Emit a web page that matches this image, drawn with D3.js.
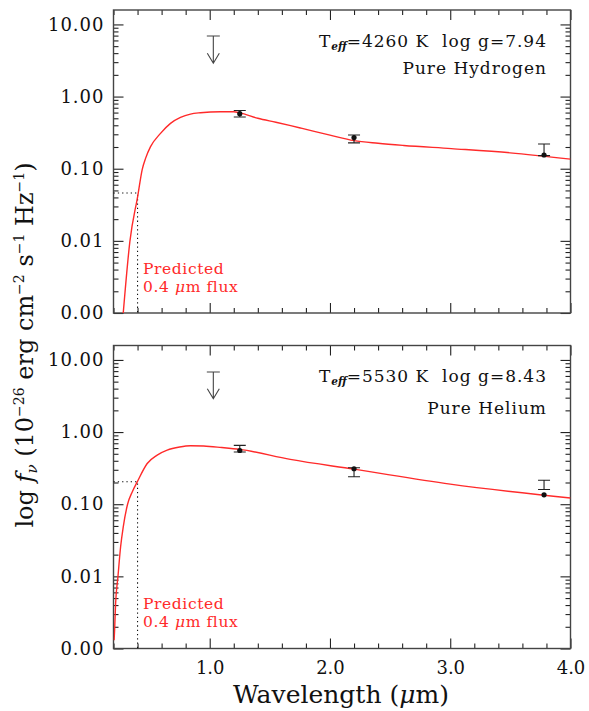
<!DOCTYPE html>
<html>
<head>
<meta charset="utf-8">
<script src="https://cdn.jsdelivr.net/npm/d3@7"></script>
<style>
  body { margin: 0; background: #fff; }
  svg text { font-family: "DejaVu Serif", serif; }
</style>
</head>
<body>
<div id="chart"></div>
<script>
// SED fits, pure hydrogen (top) and pure helium (bottom)

// model curves (wavelength in micron, flux in 1e-26 cgs)
const WAVE_H = [0.281, 0.336, 0.403, 0.439, 0.4665, 0.508, 0.591, 0.674, 0.757, 0.84, 0.923, 1.089, 1.2, 1.25, 1.4, 1.55, 1.673, 1.76, 2.0, 2.2, 2.4, 2.613, 3.009, 3.498, 4.0];
const FLUX_H = [0.001, 0.00975, 0.0432, 0.098, 0.139, 0.202, 0.309, 0.425, 0.514, 0.572, 0.597, 0.617, 0.615, 0.595, 0.5, 0.44, 0.395, 0.365, 0.292, 0.245, 0.225, 0.21, 0.19, 0.166, 0.136];

const WAVE_HE = [0.205, 0.2091, 0.2174, 0.2368, 0.2589, 0.2811, 0.317, 0.3558, 0.3973, 0.4803, 0.5633, 0.6463, 0.75, 0.84, 0.95, 1.1, 1.25, 1.67, 2.2, 3.0, 4.0];
const FLUX_HE = [0.0013, 0.00178, 0.00417, 0.0098, 0.0255, 0.0484, 0.1, 0.148, 0.204, 0.367, 0.48, 0.562, 0.62, 0.645, 0.64, 0.61, 0.575, 0.418, 0.306, 0.19, 0.122];

// photometry
const PHOT_WAVE = [1.25, 2.2, 3.78];
const PHOT_H = [0.58, 0.27, 0.155];
const PHOT_H_LO = [0.52, 0.228, 0.152];
const PHOT_H_HI = [0.64, 0.294, 0.22];
const PHOT_HE = [0.555, 0.31, 0.135];
const PHOT_HE_LO = [0.53, 0.24, 0.16];
const PHOT_HE_HI = [0.655, 0.32, 0.215];

// upper limit (arrow)
const UL_WAVE = 1.03;
const UL_TOP = [6.9, 6.8];
const UL_TIP = [2.9, 2.9];

// predicted 0.4 micron flux
const PRED_WAVE = 0.4;
const PRED_FLUX = [0.046, 0.205];

const MODEL_LABELS = ["4260 K  log g=7.94", "5530 K  log g=8.43"];
const COMP_LABELS = ["Pure Hydrogen", "Pure Helium"];

const X_TICKS_MAJOR = [1.0, 2.0, 3.0, 4.0];
const Y_TICKS_MAJOR = [0.001, 0.01, 0.1, 1, 10];

// layout
const FRAME_WIDTH = 589;
const FRAME_HEIGHT = 711;
const PLOT_LEFT = 113.5;
const PLOT_RIGHT = 570.5;
const PANEL_TOPS = [10, 345.5];
const PANEL_HEIGHT = 303;
const RED = "#ff2a2a";
const INK = "#222";

const FRAME = d3.select("#chart")
  .append("svg")
    .attr("width", FRAME_WIDTH)
    .attr("height", FRAME_HEIGHT);

const X_SCALE = d3.scaleLinear()
  .domain([0.2, 4.0])
  .range([PLOT_LEFT, PLOT_RIGHT]);

const X_MINOR = d3.range(2, 41, 2).map(d => d / 10).filter(d => Math.abs(d - Math.round(d)) > 1e-6);

let Y_MINOR = [];
for (let e = -3; e <= 1; e++) {
  for (let m = 2; m <= 9; m++) {
    const v = m * Math.pow(10, e);
    if (v < Math.pow(10, 1.2)) Y_MINOR.push(v);
  }
}

const models = [
  {wave: WAVE_H, flux: FLUX_H, phot: PHOT_H, lo: PHOT_H_LO, hi: PHOT_H_HI},
  {wave: WAVE_HE, flux: FLUX_HE, phot: PHOT_HE, lo: PHOT_HE_LO, hi: PHOT_HE_HI}
];

// label baselines measured from panel top
const LABEL_OFFSETS = [[36.7, 64.3], [36.5, 68]];
const PRED_OFFSETS = [[264, 281.7], [263.5, 281]];

models.forEach((m, i) => {
  const top = PANEL_TOPS[i];
  const bottom = top + PANEL_HEIGHT;

  const Y_SCALE = d3.scaleLog()
    .domain([0.001, Math.pow(10, 1.2)])
    .range([bottom, top]);

  const g = FRAME.append("g");

  // clip for the curve
  g.append("clipPath")
      .attr("id", "clip" + i)
    .append("rect")
      .attr("x", PLOT_LEFT)
      .attr("y", top)
      .attr("width", PLOT_RIGHT - PLOT_LEFT)
      .attr("height", PANEL_HEIGHT);

  // axes, ticks pointing inward on all four sides
  const axes = [
    [d3.axisBottom(X_SCALE).tickValues(X_TICKS_MAJOR).tickSize(-10), "translate(0," + bottom + ")", i == 1],
    [d3.axisBottom(X_SCALE).tickValues(X_MINOR).tickSize(-5), "translate(0," + bottom + ")", false],
    [d3.axisTop(X_SCALE).tickValues(X_TICKS_MAJOR).tickSize(-10), "translate(0," + top + ")", false],
    [d3.axisTop(X_SCALE).tickValues(X_MINOR).tickSize(-5), "translate(0," + top + ")", false],
    [d3.axisLeft(Y_SCALE).tickValues(Y_TICKS_MAJOR).tickSize(-10), "translate(" + PLOT_LEFT + ",0)", true],
    [d3.axisLeft(Y_SCALE).tickValues(Y_MINOR).tickSize(-5), "translate(" + PLOT_LEFT + ",0)", false],
    [d3.axisRight(Y_SCALE).tickValues(Y_TICKS_MAJOR).tickSize(-10), "translate(" + PLOT_RIGHT + ",0)", false],
    [d3.axisRight(Y_SCALE).tickValues(Y_MINOR).tickSize(-5), "translate(" + PLOT_RIGHT + ",0)", false]
  ];

  axes.forEach(([ax, tr, labelled], k) => {
    if (!labelled) ax.tickFormat("");
    else if (k == 0) ax.tickFormat(d3.format(".1f")).tickPadding(13);
    else ax.tickFormat(d3.format(".2f")).tickPadding(9);

    const a = g.append("g")
      .attr("transform", tr)
      .attr("color", INK)
      .call(ax);
    a.select(".domain").remove();
    a.selectAll("line").attr("stroke-width", 1.1);
    a.selectAll("text")
      .attr("fill", "#111")
      .attr("font-family", "DejaVu Serif")
      .attr("font-size", 18)
      .attr("letter-spacing", k == 4 ? 1 : 0);
  });

  // frame
  g.append("rect")
    .attr("x", PLOT_LEFT)
    .attr("y", top)
    .attr("width", PLOT_RIGHT - PLOT_LEFT)
    .attr("height", PANEL_HEIGHT)
    .attr("fill", "none")
    .attr("stroke", "#444")
    .attr("stroke-width", 1.4);

  // dotted guide to predicted 0.4 micron flux
  const px = X_SCALE(PRED_WAVE), py = Y_SCALE(PRED_FLUX[i]);
  g.append("path")
    .attr("d", "M" + PLOT_LEFT + "," + py + "H" + px + "V" + bottom)
    .attr("fill", "none")
    .attr("stroke", "#111")
    .attr("stroke-width", 1.1)
    .attr("stroke-dasharray", "1.3,3");

  // model curve
  const line = d3.line()
    .x(d => X_SCALE(d[0]))
    .y(d => Y_SCALE(d[1]))
    .curve(d3.curveMonotoneX);

  g.append("path")
    .datum(m.wave.map((w, j) => [w, m.flux[j]]))
    .attr("d", line)
    .attr("clip-path", "url(#clip" + i + ")")
    .attr("fill", "none")
    .attr("stroke", RED)
    .attr("stroke-width", 1.4);

  // error bars
  PHOT_WAVE.forEach((w, j) => {
    const x = X_SCALE(w);
    const y0 = Y_SCALE(m.lo[j]), y1 = Y_SCALE(m.hi[j]);
    g.append("path")
      .attr("d", "M" + (x - 6) + "," + y1 + "H" + (x + 6) +
                 "M" + x + "," + y1 + "V" + y0 +
                 "M" + (x - 6) + "," + y0 + "H" + (x + 6))
      .attr("fill", "none")
      .attr("stroke", INK)
      .attr("stroke-width", 1.1);
    g.append("circle")
      .attr("cx", x)
      .attr("cy", Y_SCALE(m.phot[j]))
      .attr("r", 2.6)
      .attr("fill", "#111");
  });

  // upper limit arrow
  const ux = X_SCALE(UL_WAVE);
  const uTop = Y_SCALE(UL_TOP[i]), uTip = Y_SCALE(UL_TIP[i]);
  g.append("path")
    .attr("d", "M" + (ux - 6.5) + "," + uTop + "H" + (ux + 6.5) +
               "M" + ux + "," + uTop + "V" + uTip +
               "M" + (ux - 6) + "," + (uTip - 10) + "L" + ux + "," + uTip + "L" + (ux + 6) + "," + (uTip - 10))
    .attr("fill", "none")
    .attr("stroke", "#444")
    .attr("stroke-width", 1.1);

  // model labels
  const t1 = g.append("text")
    .attr("x", 547)
    .attr("y", top + LABEL_OFFSETS[i][0])
    .attr("text-anchor", "end")
    .attr("font-size", 17)
    .attr("letter-spacing", 1)
    .attr("fill", "#111")
    .style("white-space", "pre");
  t1.append("tspan").text("T");
  t1.append("tspan").attr("dy", 3).attr("font-size", 10.5).attr("font-weight", "bold").attr("font-style", "italic").attr("letter-spacing", 0).text("eff");
  t1.append("tspan").attr("dy", -3).text("=" + MODEL_LABELS[i]);

  g.append("text")
    .attr("x", 547)
    .attr("y", top + LABEL_OFFSETS[i][1])
    .attr("text-anchor", "end")
    .attr("font-size", 17)
    .attr("letter-spacing", 1)
    .attr("fill", "#111")
    .text(COMP_LABELS[i]);

  // predicted flux note
  const n = g.append("text")
    .attr("x", 143)
    .attr("y", top + PRED_OFFSETS[i][0])
    .attr("font-size", 15.5)
    .attr("letter-spacing", 0.6)
    .attr("fill", RED);
  n.append("tspan").text("Predicted");
  n.append("tspan").attr("x", 143).attr("y", top + PRED_OFFSETS[i][1]).text("0.4 ");
  n.append("tspan").attr("font-style", "italic").text("\u03bc");
  n.append("tspan").text("m flux");
});

// x axis title
const xt = FRAME.append("text")
  .attr("x", 341)
  .attr("y", 703)
  .attr("text-anchor", "middle")
  .attr("font-size", 25)
  .attr("fill", "#111");
xt.append("tspan").text("Wavelength (");
xt.append("tspan").attr("font-style", "italic").text("\u03bc");
xt.append("tspan").text("m)");

// y axis title
const yt = FRAME.append("text")
  .attr("transform", "translate(33,345) rotate(-90)")
  .attr("text-anchor", "middle")
  .attr("font-size", 24)
  .attr("fill", "#111");
yt.append("tspan").text("log ");
yt.append("tspan").attr("font-style", "italic").text("f");
yt.append("tspan").attr("font-style", "italic").attr("font-size", 15).attr("dy", 4).text("\u03bd");
yt.append("tspan").attr("dy", -4).text(" (10");
yt.append("tspan").attr("font-size", 14).attr("dy", -9).text("\u221226");
yt.append("tspan").attr("dy", 9).text(" erg cm");
yt.append("tspan").attr("font-size", 14).attr("dy", -9).text("\u22122");
yt.append("tspan").attr("dy", 9).text(" s");
yt.append("tspan").attr("font-size", 14).attr("dy", -9).text("\u22121");
yt.append("tspan").attr("dy", 9).text(" Hz");
yt.append("tspan").attr("font-size", 14).attr("dy", -9).text("\u22121");
yt.append("tspan").attr("dy", 9).text(")");
</script>
</body>
</html>
